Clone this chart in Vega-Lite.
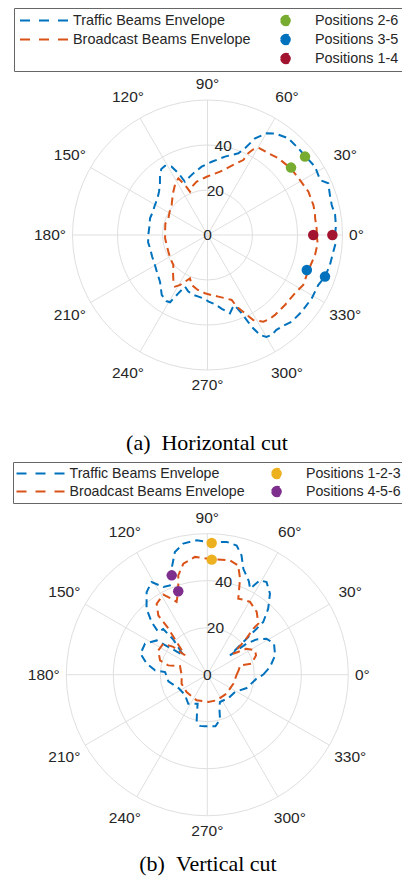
{
"$schema": "https://vega.github.io/schema/vega-lite/v6.json",
"padding": 0,
"spacing": 0,
"background": "white",
"config": {"view": {"stroke": null}, "font": "Liberation Sans"},
"resolve": {"scale": {"x": "independent", "y": "independent", "color": "independent", "shape": "independent", "size": "independent"}, "legend": {"color": "independent", "shape": "independent", "size": "independent"}},
"datasets": {
"rings": [{"ring": 20}, {"ring": 40}, {"ring": 60}],
"spokes": [{"a": 0, "label": "0°"}, {"a": 30, "label": "30°"}, {"a": 60, "label": "60°"}, {"a": 90, "label": "90°"}, {"a": 120, "label": "120°"}, {"a": 150, "label": "150°"}, {"a": 180, "label": "180°"}, {"a": 210, "label": "210°"}, {"a": 240, "label": "240°"}, {"a": 270, "label": "270°"}, {"a": 300, "label": "300°"}, {"a": 330, "label": "330°"}],
"rlabels": [{"r": 0, "label": "0"}, {"r": 20, "label": "20"}, {"r": 40, "label": "40"}],
"h_env": [
{"s":"Traffic Beams Envelope","i":0,"a":0,"r":56.7},{"s":"Traffic Beams Envelope","i":1,"a":4,"r":57.2},{"s":"Traffic Beams Envelope","i":2,"a":8.9,"r":57.4},{"s":"Traffic Beams Envelope","i":3,"a":13.6,"r":56.8},{"s":"Traffic Beams Envelope","i":4,"a":18.5,"r":57.3},{"s":"Traffic Beams Envelope","i":5,"a":23.2,"r":58.4},{"s":"Traffic Beams Envelope","i":6,"a":26,"r":55.7},{"s":"Traffic Beams Envelope","i":7,"a":32.4,"r":56.6},{"s":"Traffic Beams Envelope","i":8,"a":38.8,"r":55.8},{"s":"Traffic Beams Envelope","i":9,"a":43.7,"r":55.8},{"s":"Traffic Beams Envelope","i":10,"a":50.1,"r":56},{"s":"Traffic Beams Envelope","i":11,"a":56.4,"r":54.2},{"s":"Traffic Beams Envelope","i":12,"a":59.8,"r":52.3},{"s":"Traffic Beams Envelope","i":13,"a":63.8,"r":47.9},{"s":"Traffic Beams Envelope","i":14,"a":66.6,"r":42},{"s":"Traffic Beams Envelope","i":15,"a":69.3,"r":38.8},{"s":"Traffic Beams Envelope","i":16,"a":77.4,"r":35.7},{"s":"Traffic Beams Envelope","i":17,"a":86.7,"r":32.6},{"s":"Traffic Beams Envelope","i":18,"a":94.9,"r":30.5},{"s":"Traffic Beams Envelope","i":19,"a":103,"r":28.1},{"s":"Traffic Beams Envelope","i":20,"a":110,"r":26.4},{"s":"Traffic Beams Envelope","i":21,"a":113,"r":25.7},{"s":"Traffic Beams Envelope","i":22,"a":115,"r":30},{"s":"Traffic Beams Envelope","i":23,"a":117.7,"r":34.3},{"s":"Traffic Beams Envelope","i":24,"a":121.5,"r":36.1},{"s":"Traffic Beams Envelope","i":25,"a":125,"r":35.8},{"s":"Traffic Beams Envelope","i":26,"a":128.4,"r":34},{"s":"Traffic Beams Envelope","i":27,"a":133,"r":31},{"s":"Traffic Beams Envelope","i":28,"a":138.2,"r":28.9},{"s":"Traffic Beams Envelope","i":29,"a":144,"r":27.5},{"s":"Traffic Beams Envelope","i":30,"a":150.3,"r":26.9},{"s":"Traffic Beams Envelope","i":31,"a":157,"r":26.4},{"s":"Traffic Beams Envelope","i":32,"a":163.8,"r":26.6},{"s":"Traffic Beams Envelope","i":33,"a":172,"r":26.1},{"s":"Traffic Beams Envelope","i":34,"a":180,"r":26.3},{"s":"Traffic Beams Envelope","i":35,"a":187,"r":26.6},{"s":"Traffic Beams Envelope","i":36,"a":193,"r":26.2},{"s":"Traffic Beams Envelope","i":37,"a":201,"r":26.4},{"s":"Traffic Beams Envelope","i":38,"a":209.7,"r":26.9},{"s":"Traffic Beams Envelope","i":39,"a":217,"r":28},{"s":"Traffic Beams Envelope","i":40,"a":224.5,"r":29.6},{"s":"Traffic Beams Envelope","i":41,"a":232.6,"r":33.5},{"s":"Traffic Beams Envelope","i":42,"a":238,"r":34.6},{"s":"Traffic Beams Envelope","i":43,"a":240.9,"r":34.2},{"s":"Traffic Beams Envelope","i":44,"a":243.4,"r":29},{"s":"Traffic Beams Envelope","i":45,"a":246.5,"r":25},{"s":"Traffic Beams Envelope","i":46,"a":251,"r":26.5},{"s":"Traffic Beams Envelope","i":47,"a":256.7,"r":27.4},{"s":"Traffic Beams Envelope","i":48,"a":261,"r":27.6},{"s":"Traffic Beams Envelope","i":49,"a":266.2,"r":28.2},{"s":"Traffic Beams Envelope","i":50,"a":271,"r":29.6},{"s":"Traffic Beams Envelope","i":51,"a":276.2,"r":31},{"s":"Traffic Beams Envelope","i":52,"a":281,"r":33.4},{"s":"Traffic Beams Envelope","i":53,"a":286,"r":36.2},{"s":"Traffic Beams Envelope","i":54,"a":289,"r":34.2},{"s":"Traffic Beams Envelope","i":55,"a":291,"r":33.4},{"s":"Traffic Beams Envelope","i":56,"a":293.6,"r":38},{"s":"Traffic Beams Envelope","i":57,"a":295.7,"r":45.2},{"s":"Traffic Beams Envelope","i":58,"a":297.7,"r":50.2},{"s":"Traffic Beams Envelope","i":59,"a":300,"r":52.3},{"s":"Traffic Beams Envelope","i":60,"a":302.7,"r":52.8},{"s":"Traffic Beams Envelope","i":61,"a":306,"r":52.1},{"s":"Traffic Beams Envelope","i":62,"a":309,"r":52.4},{"s":"Traffic Beams Envelope","i":63,"a":314.2,"r":53.7},{"s":"Traffic Beams Envelope","i":64,"a":320.8,"r":54},{"s":"Traffic Beams Envelope","i":65,"a":328.7,"r":54.2},{"s":"Traffic Beams Envelope","i":66,"a":335.7,"r":54},{"s":"Traffic Beams Envelope","i":67,"a":340.5,"r":55.4},{"s":"Traffic Beams Envelope","i":68,"a":346.2,"r":56},{"s":"Traffic Beams Envelope","i":69,"a":352.4,"r":56.4},{"s":"Traffic Beams Envelope","i":70,"a":356,"r":57},{"s":"Traffic Beams Envelope","i":71,"a":360,"r":56.7},
{"s":"Broadcast Beams Envelope","i":0,"a":0,"r":48.5},{"s":"Broadcast Beams Envelope","i":1,"a":3.5,"r":48.6},{"s":"Broadcast Beams Envelope","i":2,"a":8.8,"r":48.4},{"s":"Broadcast Beams Envelope","i":3,"a":11.4,"r":48.7},{"s":"Broadcast Beams Envelope","i":4,"a":15.8,"r":48.9},{"s":"Broadcast Beams Envelope","i":5,"a":23.2,"r":48.8},{"s":"Broadcast Beams Envelope","i":6,"a":30.7,"r":47.8},{"s":"Broadcast Beams Envelope","i":7,"a":38.9,"r":47.4},{"s":"Broadcast Beams Envelope","i":8,"a":47.3,"r":46.4},{"s":"Broadcast Beams Envelope","i":9,"a":53.3,"r":45.3},{"s":"Broadcast Beams Envelope","i":10,"a":59.8,"r":44.9},{"s":"Broadcast Beams Envelope","i":11,"a":62,"r":43},{"s":"Broadcast Beams Envelope","i":12,"a":63.5,"r":40.6},{"s":"Broadcast Beams Envelope","i":13,"a":64.5,"r":36.9},{"s":"Broadcast Beams Envelope","i":14,"a":69.8,"r":33.2},{"s":"Broadcast Beams Envelope","i":15,"a":78.8,"r":28.7},{"s":"Broadcast Beams Envelope","i":16,"a":90.8,"r":25.9},{"s":"Broadcast Beams Envelope","i":17,"a":101.5,"r":24.2},{"s":"Broadcast Beams Envelope","i":18,"a":108,"r":22.5},{"s":"Broadcast Beams Envelope","i":19,"a":112,"r":20.8},{"s":"Broadcast Beams Envelope","i":20,"a":114,"r":24},{"s":"Broadcast Beams Envelope","i":21,"a":117.2,"r":28.3},{"s":"Broadcast Beams Envelope","i":22,"a":122,"r":27},{"s":"Broadcast Beams Envelope","i":23,"a":128.3,"r":24.5},{"s":"Broadcast Beams Envelope","i":24,"a":134,"r":22.5},{"s":"Broadcast Beams Envelope","i":25,"a":140,"r":20.8},{"s":"Broadcast Beams Envelope","i":26,"a":148,"r":19.8},{"s":"Broadcast Beams Envelope","i":27,"a":156.9,"r":18.9},{"s":"Broadcast Beams Envelope","i":28,"a":165,"r":19.4},{"s":"Broadcast Beams Envelope","i":29,"a":172,"r":19},{"s":"Broadcast Beams Envelope","i":30,"a":184.5,"r":18.9},{"s":"Broadcast Beams Envelope","i":31,"a":195,"r":18.7},{"s":"Broadcast Beams Envelope","i":32,"a":203,"r":18.9},{"s":"Broadcast Beams Envelope","i":33,"a":212,"r":19.5},{"s":"Broadcast Beams Envelope","i":34,"a":221.3,"r":20.2},{"s":"Broadcast Beams Envelope","i":35,"a":227,"r":22.5},{"s":"Broadcast Beams Envelope","i":36,"a":232.8,"r":25.1},{"s":"Broadcast Beams Envelope","i":37,"a":237.8,"r":27.1},{"s":"Broadcast Beams Envelope","i":38,"a":241,"r":25.5},{"s":"Broadcast Beams Envelope","i":39,"a":244.3,"r":23},{"s":"Broadcast Beams Envelope","i":40,"a":248,"r":20.8},{"s":"Broadcast Beams Envelope","i":41,"a":252.5,"r":23.3},{"s":"Broadcast Beams Envelope","i":42,"a":260,"r":24.8},{"s":"Broadcast Beams Envelope","i":43,"a":267.5,"r":25.9},{"s":"Broadcast Beams Envelope","i":44,"a":274,"r":26.8},{"s":"Broadcast Beams Envelope","i":45,"a":280,"r":27.8},{"s":"Broadcast Beams Envelope","i":46,"a":286,"r":29.3},{"s":"Broadcast Beams Envelope","i":47,"a":290.4,"r":30.8},{"s":"Broadcast Beams Envelope","i":48,"a":292.2,"r":34.4},{"s":"Broadcast Beams Envelope","i":49,"a":295.6,"r":38.6},{"s":"Broadcast Beams Envelope","i":50,"a":298.3,"r":42.9},{"s":"Broadcast Beams Envelope","i":51,"a":302.8,"r":45.8},{"s":"Broadcast Beams Envelope","i":52,"a":306,"r":46.4},{"s":"Broadcast Beams Envelope","i":53,"a":310.2,"r":46.5},{"s":"Broadcast Beams Envelope","i":54,"a":317.9,"r":46.4},{"s":"Broadcast Beams Envelope","i":55,"a":326.3,"r":46.7},{"s":"Broadcast Beams Envelope","i":56,"a":332.4,"r":48},{"s":"Broadcast Beams Envelope","i":57,"a":340.6,"r":47.5},{"s":"Broadcast Beams Envelope","i":58,"a":349.5,"r":48.6},{"s":"Broadcast Beams Envelope","i":59,"a":355.7,"r":49.1},{"s":"Broadcast Beams Envelope","i":60,"a":360,"r":48.5}
],
"h_pts": [
{"s":"Positions 2-6","a":38.8,"r":55.6},{"s":"Positions 2-6","a":38.9,"r":47.7},
{"s":"Positions 3-5","a":340.5,"r":55.4},{"s":"Positions 3-5","a":340.6,"r":46.8},
{"s":"Positions 1-4","a":0,"r":55.5},{"s":"Positions 1-4","a":0,"r":47}
],
"v_env": [
{"s":"Traffic Beams Envelope","i":0,"a":0,"r":23.8},{"s":"Traffic Beams Envelope","i":1,"a":7,"r":26.9},{"s":"Traffic Beams Envelope","i":2,"a":15.9,"r":30},{"s":"Traffic Beams Envelope","i":3,"a":24.9,"r":31.3},{"s":"Traffic Beams Envelope","i":4,"a":31.3,"r":29.5},{"s":"Traffic Beams Envelope","i":5,"a":35.6,"r":25.8},{"s":"Traffic Beams Envelope","i":6,"a":38.3,"r":21.3},{"s":"Traffic Beams Envelope","i":7,"a":40.4,"r":12.7},{"s":"Traffic Beams Envelope","i":8,"a":42.2,"r":20.7},{"s":"Traffic Beams Envelope","i":9,"a":43,"r":28.7},{"s":"Traffic Beams Envelope","i":10,"a":43.3,"r":32.7},{"s":"Traffic Beams Envelope","i":11,"a":47.3,"r":38.2},{"s":"Traffic Beams Envelope","i":12,"a":52.3,"r":43.6},{"s":"Traffic Beams Envelope","i":13,"a":57.4,"r":46.8},{"s":"Traffic Beams Envelope","i":14,"a":60.8,"r":46},{"s":"Traffic Beams Envelope","i":15,"a":63.6,"r":40.9},{"s":"Traffic Beams Envelope","i":16,"a":66,"r":43.5},{"s":"Traffic Beams Envelope","i":17,"a":71.2,"r":47.6},{"s":"Traffic Beams Envelope","i":18,"a":74,"r":52.8},{"s":"Traffic Beams Envelope","i":19,"a":77.2,"r":56.4},{"s":"Traffic Beams Envelope","i":20,"a":81.7,"r":57.1},{"s":"Traffic Beams Envelope","i":21,"a":88.1,"r":56.3},{"s":"Traffic Beams Envelope","i":22,"a":94.5,"r":57.4},{"s":"Traffic Beams Envelope","i":23,"a":100.4,"r":56.7},{"s":"Traffic Beams Envelope","i":24,"a":104.8,"r":54},{"s":"Traffic Beams Envelope","i":25,"a":108.6,"r":47.6},{"s":"Traffic Beams Envelope","i":26,"a":110.5,"r":43.5},{"s":"Traffic Beams Envelope","i":27,"a":112.7,"r":41.2},{"s":"Traffic Beams Envelope","i":28,"a":116.6,"r":41.7},{"s":"Traffic Beams Envelope","i":29,"a":121,"r":46},{"s":"Traffic Beams Envelope","i":30,"a":126.3,"r":43.6},{"s":"Traffic Beams Envelope","i":31,"a":132.6,"r":38.2},{"s":"Traffic Beams Envelope","i":32,"a":136.6,"r":32.6},{"s":"Traffic Beams Envelope","i":33,"a":138.9,"r":27.7},{"s":"Traffic Beams Envelope","i":34,"a":134,"r":27},{"s":"Traffic Beams Envelope","i":35,"a":134,"r":21},{"s":"Traffic Beams Envelope","i":36,"a":141,"r":13.1},{"s":"Traffic Beams Envelope","i":37,"a":145.9,"r":26},{"s":"Traffic Beams Envelope","i":38,"a":153.5,"r":29.6},{"s":"Traffic Beams Envelope","i":39,"a":162.5,"r":29.8},{"s":"Traffic Beams Envelope","i":40,"a":169.7,"r":26.2},{"s":"Traffic Beams Envelope","i":41,"a":175.3,"r":22.3},{"s":"Traffic Beams Envelope","i":42,"a":176.4,"r":18},{"s":"Traffic Beams Envelope","i":43,"a":189.7,"r":16.8},{"s":"Traffic Beams Envelope","i":44,"a":205,"r":13.5},{"s":"Traffic Beams Envelope","i":45,"a":222,"r":12.8},{"s":"Traffic Beams Envelope","i":46,"a":236.8,"r":14.8},{"s":"Traffic Beams Envelope","i":47,"a":251.5,"r":13},{"s":"Traffic Beams Envelope","i":48,"a":255,"r":17},{"s":"Traffic Beams Envelope","i":49,"a":257.3,"r":20.6},{"s":"Traffic Beams Envelope","i":50,"a":261.9,"r":22},{"s":"Traffic Beams Envelope","i":51,"a":267,"r":22},{"s":"Traffic Beams Envelope","i":52,"a":273,"r":21.9},{"s":"Traffic Beams Envelope","i":53,"a":279,"r":22.2},{"s":"Traffic Beams Envelope","i":54,"a":285.9,"r":19.8},{"s":"Traffic Beams Envelope","i":55,"a":290,"r":15},{"s":"Traffic Beams Envelope","i":56,"a":294.9,"r":12.8},{"s":"Traffic Beams Envelope","i":57,"a":312,"r":13.4},{"s":"Traffic Beams Envelope","i":58,"a":328,"r":13.9},{"s":"Traffic Beams Envelope","i":59,"a":341.3,"r":17.7},{"s":"Traffic Beams Envelope","i":60,"a":355.4,"r":21},{"s":"Traffic Beams Envelope","i":61,"a":360,"r":23.8},
{"s":"Broadcast Beams Envelope","i":0,"a":0,"r":12.5},{"s":"Broadcast Beams Envelope","i":1,"a":8,"r":13.5},{"s":"Broadcast Beams Envelope","i":2,"a":15.9,"r":14.5},{"s":"Broadcast Beams Envelope","i":3,"a":13.9,"r":19.4},{"s":"Broadcast Beams Envelope","i":4,"a":21.6,"r":22.3},{"s":"Broadcast Beams Envelope","i":5,"a":27,"r":22.8},{"s":"Broadcast Beams Envelope","i":6,"a":33.5,"r":20},{"s":"Broadcast Beams Envelope","i":7,"a":39,"r":14.2},{"s":"Broadcast Beams Envelope","i":8,"a":42.3,"r":21.7},{"s":"Broadcast Beams Envelope","i":9,"a":45,"r":27.7},{"s":"Broadcast Beams Envelope","i":10,"a":45,"r":30.7},{"s":"Broadcast Beams Envelope","i":11,"a":51.8,"r":34},{"s":"Broadcast Beams Envelope","i":12,"a":59.6,"r":35.9},{"s":"Broadcast Beams Envelope","i":13,"a":64,"r":35.5},{"s":"Broadcast Beams Envelope","i":14,"a":67.8,"r":34.9},{"s":"Broadcast Beams Envelope","i":15,"a":71.2,"r":43.2},{"s":"Broadcast Beams Envelope","i":16,"a":74.2,"r":48.3},{"s":"Broadcast Beams Envelope","i":17,"a":78.8,"r":49.6},{"s":"Broadcast Beams Envelope","i":18,"a":87.8,"r":49.2},{"s":"Broadcast Beams Envelope","i":19,"a":96,"r":50.4},{"s":"Broadcast Beams Envelope","i":20,"a":102.2,"r":48.3},{"s":"Broadcast Beams Envelope","i":21,"a":106.3,"r":44},{"s":"Broadcast Beams Envelope","i":22,"a":109.2,"r":37.6},{"s":"Broadcast Beams Envelope","i":23,"a":112.9,"r":33.6},{"s":"Broadcast Beams Envelope","i":24,"a":115.2,"r":35.7},{"s":"Broadcast Beams Envelope","i":25,"a":118.8,"r":38.9},{"s":"Broadcast Beams Envelope","i":26,"a":125.5,"r":37.1},{"s":"Broadcast Beams Envelope","i":27,"a":129.6,"r":32.7},{"s":"Broadcast Beams Envelope","i":28,"a":130,"r":26.3},{"s":"Broadcast Beams Envelope","i":29,"a":139.1,"r":12.6},{"s":"Broadcast Beams Envelope","i":30,"a":140.8,"r":18.7},{"s":"Broadcast Beams Envelope","i":31,"a":144.8,"r":22.9},{"s":"Broadcast Beams Envelope","i":32,"a":153.6,"r":23.3},{"s":"Broadcast Beams Envelope","i":33,"a":163.2,"r":21},{"s":"Broadcast Beams Envelope","i":34,"a":166.6,"r":17.1},{"s":"Broadcast Beams Envelope","i":35,"a":162.3,"r":12.2},{"s":"Broadcast Beams Envelope","i":36,"a":181.6,"r":10.9},{"s":"Broadcast Beams Envelope","i":37,"a":199.3,"r":11.6},{"s":"Broadcast Beams Envelope","i":38,"a":219.9,"r":11.5},{"s":"Broadcast Beams Envelope","i":39,"a":247.4,"r":11.8},{"s":"Broadcast Beams Envelope","i":40,"a":272,"r":11.6},{"s":"Broadcast Beams Envelope","i":41,"a":289.9,"r":11.6},{"s":"Broadcast Beams Envelope","i":42,"a":315.4,"r":11.5},{"s":"Broadcast Beams Envelope","i":43,"a":340.9,"r":11.7},{"s":"Broadcast Beams Envelope","i":44,"a":360,"r":12.5}
],
"v_pts": [
{"s":"Positions 1-2-3","a":88.1,"r":56.1},{"s":"Positions 1-2-3","a":87.8,"r":49},
{"s":"Positions 4-5-6","a":109.7,"r":44.9},{"s":"Positions 4-5-6","a":109.2,"r":37.6}
]
},
"vconcat": [
{
"width": 402, "height": 452,
"title": {"text": "(a)\u2002Horizontal cut", "orient": "bottom", "anchor": "middle", "offset": -9, "baseline": "middle", "dx": 6, "font": "Liberation Serif", "fontSize": 22, "fontWeight": "normal", "color": "#000000"},
"layer": [
{"data": {"name": "rings"},
 "transform": [{"calculate": "0", "as": "ox"}],
 "mark": {"type": "point", "shape": "circle", "filled": false, "color": "#dfdfdf", "strokeWidth": 1, "opacity": 1},
 "encoding": {
  "x": {"field": "ox", "type": "quantitative", "scale": {"domain": [-92.22, 86.44], "nice": false, "zero": false}, "axis": null},
  "y": {"field": "ox", "type": "quantitative", "scale": {"domain": [-96.44, 104.44], "nice": false, "zero": false}, "axis": null},
  "size": {"field": "ring", "type": "quantitative", "scale": {"type": "pow", "exponent": 2, "domain": [0, 60], "range": [0, 72900]}, "legend": null}}},
{"data": {"name": "spokes"},
 "transform": [{"calculate": "0", "as": "ox"}, {"calculate": "60*cos(datum.a*PI/180)", "as": "ex"}, {"calculate": "60*sin(datum.a*PI/180)", "as": "ey"}],
 "mark": {"type": "rule", "color": "#dfdfdf", "strokeWidth": 1},
 "encoding": {"x": {"field": "ox", "type": "quantitative"}, "y": {"field": "ox", "type": "quantitative"}, "x2": {"field": "ex"}, "y2": {"field": "ey"}}},
{"data": {"name": "h_env"},
 "transform": [{"calculate": "datum.r*cos(datum.a*PI/180)", "as": "x"}, {"calculate": "datum.r*sin(datum.a*PI/180)", "as": "y"}],
 "mark": {"type": "line", "strokeDash": [8, 5], "strokeWidth": 2},
 "encoding": {
  "x": {"field": "x", "type": "quantitative"},
  "y": {"field": "y", "type": "quantitative"},
  "order": {"field": "i", "type": "quantitative"},
  "color": {"field": "s", "type": "nominal",
   "scale": {"domain": ["Traffic Beams Envelope", "Broadcast Beams Envelope", " ", "Positions 2-6", "Positions 3-5", "Positions 1-4"], "range": ["#0072BD", "#D95319", "#ffffff", "#77AC30", "#0072BD", "#A2142F"]},
   "legend": {"title": null, "orient": "none", "legendX": 14, "legendY": 8, "columns": 2, "symbolSize": 2304, "symbolStrokeWidth": 2, "symbolDash": [10, 9], "symbolOpacity": 1, "clipHeight": 19, "rowPadding": 0, "columnPadding": 8, "labelOffset": 4, "symbolOffset": 2, "padding": 3, "strokeColor": "#666666", "fillColor": "#ffffff", "labelFont": "Liberation Sans", "labelFontSize": 14.4, "labelColor": "#262626", "labelLimit": 400}}}},
{"data": {"name": "h_pts"},
 "transform": [{"calculate": "datum.r*cos(datum.a*PI/180)", "as": "x"}, {"calculate": "datum.r*sin(datum.a*PI/180)", "as": "y"}],
 "mark": {"type": "point", "shape": "circle", "filled": true, "size": 110, "opacity": 1},
 "encoding": {"x": {"field": "x", "type": "quantitative"}, "y": {"field": "y", "type": "quantitative"}, "color": {"field": "s", "type": "nominal"}}},
{"data": {"name": "h_pts"},
 "transform": [{"filter": "false"}],
 "mark": {"type": "point", "filled": true, "opacity": 1},
 "encoding": {
  "color": {"field": "s", "type": "nominal"},
  "shape": {"field": "s", "type": "nominal",
   "scale": {"domain": ["Traffic Beams Envelope", "Broadcast Beams Envelope", " ", "Positions 2-6", "Positions 3-5", "Positions 1-4"], "range": ["stroke", "stroke", "stroke", "M-0.2,0A0.2,0.2,0,1,1,0.2,0A0.2,0.2,0,1,1,-0.2,0Z", "M-0.2,0A0.2,0.2,0,1,1,0.2,0A0.2,0.2,0,1,1,-0.2,0Z", "M-0.2,0A0.2,0.2,0,1,1,0.2,0A0.2,0.2,0,1,1,-0.2,0Z"]},
   "legend": {"title": null, "orient": "none", "legendX": 14, "legendY": 8, "columns": 2, "symbolSize": 2304, "symbolStrokeWidth": 2, "symbolDash": [10, 9], "symbolOpacity": 1, "clipHeight": 19, "rowPadding": 0, "columnPadding": 8, "labelOffset": 4, "symbolOffset": 2, "padding": 3, "strokeColor": "#666666", "fillColor": "#ffffff", "labelFont": "Liberation Sans", "labelFontSize": 14.4, "labelColor": "#262626", "labelLimit": 400}}}},
{"data": {"name": "spokes"},
 "transform": [{"calculate": "60 + (datum.a == 0 ? 14 : datum.a == 90 ? 16 : datum.a == 180 ? 22.5 : datum.a == 270 ? 15 : 24) / 2.25", "as": "rl"}, {"calculate": "datum.rl*cos(datum.a*PI/180)", "as": "lx"}, {"calculate": "datum.rl*sin(datum.a*PI/180)", "as": "ly"}],
 "mark": {"type": "text", "font": "Liberation Sans", "fontSize": 15.5, "color": "#262626", "align": "center", "baseline": "middle"},
 "encoding": {"x": {"field": "lx", "type": "quantitative"}, "y": {"field": "ly", "type": "quantitative"}, "text": {"field": "label", "type": "nominal"}}},
{"data": {"name": "rlabels"},
 "transform": [{"calculate": "datum.r*cos(80*PI/180)", "as": "lx"}, {"calculate": "datum.r*sin(80*PI/180)", "as": "ly"}],
 "mark": {"type": "text", "font": "Liberation Sans", "fontSize": 15.5, "color": "#262626", "align": "center", "baseline": "middle"},
 "encoding": {"x": {"field": "lx", "type": "quantitative"}, "y": {"field": "ly", "type": "quantitative"}, "text": {"field": "label", "type": "nominal"}}}
]
},
{
"width": 402, "height": 424,
"title": {"text": "(b)\u2002Vertical cut", "orient": "bottom", "anchor": "middle", "offset": -14, "baseline": "middle", "dx": 7, "font": "Liberation Serif", "fontSize": 22, "fontWeight": "normal", "color": "#000000"},
"layer": [
{"data": {"name": "rings"},
 "transform": [{"calculate": "0", "as": "ox"}],
 "mark": {"type": "point", "shape": "circle", "filled": false, "color": "#dfdfdf", "strokeWidth": 1, "opacity": 1},
 "encoding": {
  "x": {"field": "ox", "type": "quantitative", "scale": {"domain": [-88.21, 82.85], "nice": false, "zero": false}, "axis": null},
  "y": {"field": "ox", "type": "quantitative", "scale": {"domain": [-86.51, 93.91], "nice": false, "zero": false}, "axis": null},
  "size": {"field": "ring", "type": "quantitative", "scale": {"type": "pow", "exponent": 2, "domain": [0, 60], "range": [0, 79524]}, "legend": null}}},
{"data": {"name": "spokes"},
 "transform": [{"calculate": "0", "as": "ox"}, {"calculate": "60*cos(datum.a*PI/180)", "as": "ex"}, {"calculate": "60*sin(datum.a*PI/180)", "as": "ey"}],
 "mark": {"type": "rule", "color": "#dfdfdf", "strokeWidth": 1},
 "encoding": {"x": {"field": "ox", "type": "quantitative"}, "y": {"field": "ox", "type": "quantitative"}, "x2": {"field": "ex"}, "y2": {"field": "ey"}}},
{"data": {"name": "v_env"},
 "transform": [{"calculate": "datum.r*cos(datum.a*PI/180)", "as": "x"}, {"calculate": "datum.r*sin(datum.a*PI/180)", "as": "y"}],
 "mark": {"type": "line", "strokeDash": [8, 5], "strokeWidth": 2},
 "encoding": {
  "x": {"field": "x", "type": "quantitative"},
  "y": {"field": "y", "type": "quantitative"},
  "order": {"field": "i", "type": "quantitative"},
  "color": {"field": "s", "type": "nominal",
   "scale": {"domain": ["Traffic Beams Envelope", "Broadcast Beams Envelope", "Positions 1-2-3", "Positions 4-5-6"], "range": ["#0072BD", "#D95319", "#EDB120", "#7E2F8E"]},
   "legend": {"title": null, "orient": "none", "legendX": 13, "legendY": 8, "columns": 2, "symbolSize": 2304, "symbolStrokeWidth": 2, "symbolDash": [10, 9], "symbolOpacity": 1, "clipHeight": 18, "rowPadding": 0, "columnPadding": 6.5, "labelOffset": 4, "symbolOffset": 0, "padding": 2.5, "strokeColor": "#666666", "fillColor": "#ffffff", "labelFont": "Liberation Sans", "labelFontSize": 14.2, "labelColor": "#262626", "labelLimit": 400}}}},
{"data": {"name": "v_pts"},
 "transform": [{"calculate": "datum.r*cos(datum.a*PI/180)", "as": "x"}, {"calculate": "datum.r*sin(datum.a*PI/180)", "as": "y"}],
 "mark": {"type": "point", "shape": "circle", "filled": true, "size": 110, "opacity": 1},
 "encoding": {"x": {"field": "x", "type": "quantitative"}, "y": {"field": "y", "type": "quantitative"}, "color": {"field": "s", "type": "nominal"}}},
{"data": {"name": "v_pts"},
 "transform": [{"filter": "false"}],
 "mark": {"type": "point", "filled": true, "opacity": 1},
 "encoding": {
  "color": {"field": "s", "type": "nominal"},
  "shape": {"field": "s", "type": "nominal",
   "scale": {"domain": ["Traffic Beams Envelope", "Broadcast Beams Envelope", "Positions 1-2-3", "Positions 4-5-6"], "range": ["stroke", "stroke", "M-0.2,0A0.2,0.2,0,1,1,0.2,0A0.2,0.2,0,1,1,-0.2,0Z", "M-0.2,0A0.2,0.2,0,1,1,0.2,0A0.2,0.2,0,1,1,-0.2,0Z"]},
   "legend": {"title": null, "orient": "none", "legendX": 13, "legendY": 8, "columns": 2, "symbolSize": 2304, "symbolStrokeWidth": 2, "symbolDash": [10, 9], "symbolOpacity": 1, "clipHeight": 18, "rowPadding": 0, "columnPadding": 6.5, "labelOffset": 4, "symbolOffset": 0, "padding": 2.5, "strokeColor": "#666666", "fillColor": "#ffffff", "labelFont": "Liberation Sans", "labelFontSize": 14.2, "labelColor": "#262626", "labelLimit": 400}}}},
{"data": {"name": "spokes"},
 "transform": [{"calculate": "60 + (datum.a == 0 ? 14 : datum.a == 90 ? 16 : datum.a == 180 ? 22.5 : datum.a == 270 ? 15 : 24) / 2.35", "as": "rl"}, {"calculate": "datum.rl*cos(datum.a*PI/180)", "as": "lx"}, {"calculate": "datum.rl*sin(datum.a*PI/180)", "as": "ly"}],
 "mark": {"type": "text", "font": "Liberation Sans", "fontSize": 15.5, "color": "#262626", "align": "center", "baseline": "middle"},
 "encoding": {"x": {"field": "lx", "type": "quantitative"}, "y": {"field": "ly", "type": "quantitative"}, "text": {"field": "label", "type": "nominal"}}},
{"data": {"name": "rlabels"},
 "transform": [{"calculate": "datum.r*cos(80*PI/180)", "as": "lx"}, {"calculate": "datum.r*sin(80*PI/180)", "as": "ly"}],
 "mark": {"type": "text", "font": "Liberation Sans", "fontSize": 15.5, "color": "#262626", "align": "center", "baseline": "middle"},
 "encoding": {"x": {"field": "lx", "type": "quantitative"}, "y": {"field": "ly", "type": "quantitative"}, "text": {"field": "label", "type": "nominal"}}}
]
}
]
}
